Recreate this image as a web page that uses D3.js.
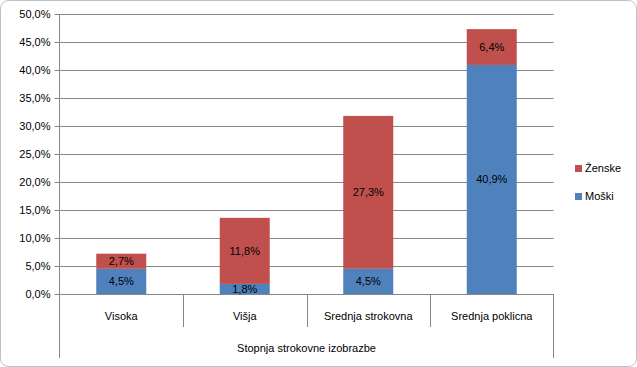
<!DOCTYPE html>
<html><head><meta charset="utf-8">
<script src="https://cdn.jsdelivr.net/npm/d3@7"></script>
<style>body{margin:0;background:#fff}svg{display:block}text{font-family:"Liberation Sans",Arial,sans-serif;}</style>
</head><body>
<script>
const categories = ["Visoka", "Višja", "Srednja strokovna", "Srednja poklicna"];
const moski = [4.5, 1.8, 4.5, 40.9];
const zenske = [2.7, 11.8, 27.3, 6.4];
const yTicks = [0, 5, 10, 15, 20, 25, 30, 35, 40, 45, 50];
const seriesNames = ["Moški", "Ženske"];
const axisTitle = "Stopnja strokovne izobrazbe";

const W = 637, H = 367;
const svg = d3.select("body").append("svg").attr("width", W).attr("height", H);
svg.append("rect").attr("x", 0.5).attr("y", 0.5).attr("width", W - 1).attr("height", H - 1)
  .attr("rx", 8).attr("fill", "#fff").attr("stroke", "#b9c2cc");

const L = 59.5, R = 553.5, T = 14, B = 294;
const x = d3.scaleBand().domain(categories).range([L, R]).paddingInner(0).paddingOuter(0);
const y = d3.scaleLinear().domain([0, 50]).range([B, T]);

const fmt = v => v.toFixed(1).replace(".", ",") + "%";

// gridlines
svg.append("g").selectAll("line").data(yTicks).join("line")
  .attr("x1", L - 5).attr("x2", R).attr("y1", d => Math.round(y(d)) + 0.5).attr("y2", d => Math.round(y(d)) + 0.5)
  .attr("stroke", "#868686").attr("stroke-width", 1);
svg.append("g").selectAll("text").data(yTicks).join("text")
  .attr("x", L - 9).attr("y", d => Math.round(y(d)) + 4).attr("text-anchor", "end")
  .attr("font-size", 11).attr("fill", "#000").text(d => fmt(d));

// bars
const stacked = d3.stack().keys([0, 1]).value((d, k) => k === 0 ? d.m : d.z)(
  categories.map((c, i) => ({ c, m: moski[i], z: zenske[i] })));
const colors = ["#4F81BD", "#C0504D"];
const bw = 50;
stacked.forEach((s, si) => {
  const g = svg.append("g");
  g.selectAll("rect").data(s).join("rect")
    .attr("x", d => x(d.data.c) + x.bandwidth() / 2 - bw / 2).attr("width", bw)
    .attr("y", d => y(d[1])).attr("height", d => y(d[0]) - y(d[1]))
    .attr("fill", colors[si]);
  g.selectAll("text").data(s).join("text")
    .attr("x", d => x(d.data.c) + x.bandwidth() / 2)
    .attr("y", d => (y(d[0]) + y(d[1])) / 2 + 4)
    .attr("text-anchor", "middle").attr("font-size", 11).attr("fill", "#000")
    .text(d => fmt(d[1] - d[0]));
});

// axis lines
svg.append("line").attr("x1", L).attr("x2", L).attr("y1", T).attr("y2", 358).attr("stroke", "#868686");
svg.append("line").attr("x1", R).attr("x2", R).attr("y1", B).attr("y2", 358).attr("stroke", "#868686");
svg.append("g").selectAll("line").data(categories.slice(1)).join("line")
  .attr("x1", d => Math.round(x(d)) + 0.5).attr("x2", d => Math.round(x(d)) + 0.5)
  .attr("y1", B).attr("y2", 327).attr("stroke", "#868686");
svg.append("g").selectAll("text").data(categories).join("text")
  .attr("x", d => x(d) + x.bandwidth() / 2).attr("y", 320).attr("text-anchor", "middle")
  .attr("font-size", 11).attr("fill", "#000").text(d => d);
svg.append("text").attr("x", (L + R) / 2).attr("y", 352).attr("text-anchor", "middle")
  .attr("font-size", 11).attr("fill", "#000").text(axisTitle);

// legend
const leg = [{ n: seriesNames[1], c: colors[1], y: 168 }, { n: seriesNames[0], c: colors[0], y: 196 }];
const lg = svg.append("g").selectAll("g").data(leg).join("g");
lg.append("rect").attr("x", 575).attr("y", d => d.y - 3).attr("width", 7).attr("height", 7).attr("fill", d => d.c);
lg.append("text").attr("x", 585).attr("y", d => d.y + 4).attr("font-size", 11).attr("fill", "#000").text(d => d.n);
</script>
</body></html>
